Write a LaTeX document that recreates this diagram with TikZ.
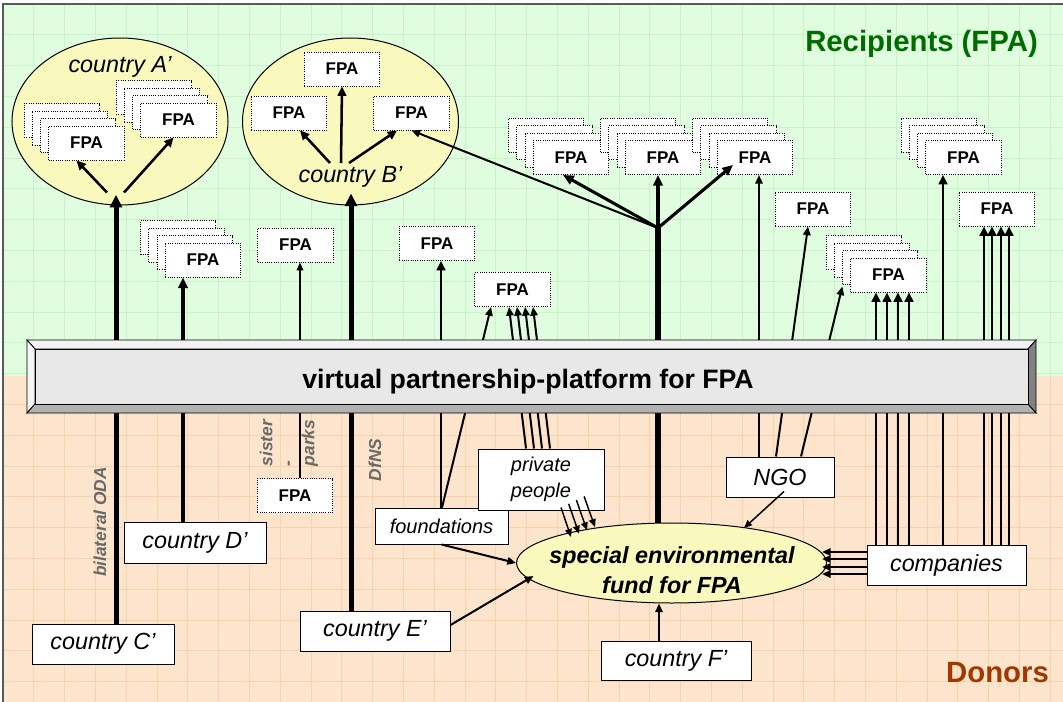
\documentclass[tikz,border=0pt]{standalone}
\usepackage{fontspec}
\setmainfont{Liberation Sans}
\usetikzlibrary{arrows.meta,shapes.geometric,calc,shadows}
\definecolor{bggreen}{RGB}{224,253,224}
\definecolor{gridgreen}{RGB}{200,242,200}
\definecolor{bgorange}{RGB}{253,228,204}
\definecolor{gridorange}{RGB}{250,210,170}
\definecolor{ellyellow}{RGB}{249,249,190}
\definecolor{titlegreen}{RGB}{0,108,0}
\definecolor{donorbrown}{RGB}{160,56,0}
\definecolor{labelgray}{RGB}{105,105,105}
\definecolor{bevtop}{RGB}{242,242,242}
\definecolor{bevleft}{RGB}{246,246,246}
\definecolor{bevbot}{RGB}{178,178,178}
\definecolor{bevright}{RGB}{130,130,130}
\definecolor{platface}{RGB}{232,232,232}
\definecolor{framegray}{RGB}{90,90,90}
\pgfdeclarelayer{bg}
\pgfdeclarelayer{ell}
\pgfdeclarelayer{conn}
\pgfdeclarelayer{top}
\pgfsetlayers{bg,ell,conn,main,top}
\tikzset{
  fpa/.style={draw=black, densely dotted, line width=0.7pt, fill=white,
    minimum width=56.5pt, minimum height=25.5pt, inner sep=0pt,
    font=\bfseries\fontsize{12.75}{14}\selectfont},
  fpastack/.style={fpa,
    copy shadow={draw=black, fill=white, densely dotted, line width=0.7pt, shadow xshift=-18.6pt, shadow yshift=16.8pt},
    copy shadow={draw=black, fill=white, densely dotted, line width=0.7pt, shadow xshift=-12.4pt, shadow yshift=11.2pt},
    copy shadow={draw=black, fill=white, densely dotted, line width=0.7pt, shadow xshift=-6.2pt, shadow yshift=5.6pt}},
  donor/.style={draw=black, line width=0.75pt, fill=white, inner sep=0pt,
    font=\itshape\fontsize{17.5}{20}\selectfont},
  smalldonor/.style={donor, align=center, font=\itshape\fontsize{15}{19.5}\selectfont},
  vlabel/.style={rotate=90, text=labelgray, inner sep=0pt,
    font=\bfseries\itshape\fontsize{13}{15.75}\selectfont},
  recell/.style={ellipse, draw=black, line width=0.75pt, fill=ellyellow, inner sep=0pt},
  ctext/.style={inner sep=0pt, font=\itshape\fontsize{17.5}{20}\selectfont},
  bigtitle/.style={inner sep=0pt, anchor=base, font=\bfseries\fontsize{22}{26}\selectfont},
  flowA/.style={line width=1.1pt, -{Triangle[length=6pt,width=5pt]}},
  flowB/.style={line width=1.5pt, -{Triangle[length=6.5pt,width=5.5pt]}},
  flowC/.style={line width=1.9pt, -{Triangle[length=7pt,width=6.5pt]}},
  flowD/.style={line width=2.3pt, -{Triangle[length=8pt,width=7pt]}},
  flowE/.style={line width=3.75pt, -{Triangle[length=9.5pt,width=9pt]}},
}
\begin{document}
\begin{tikzpicture}[x=0.75pt,y=-0.75pt]
\useasboundingbox (0,0) rectangle (1063,702);
% ---------------- background
\begin{pgfonlayer}{bg}
  \fill[white] (0,0) rectangle (1063,702);
  \fill[bggreen] (3,4) rectangle (1063,376);
  \fill[bgorange] (3,376) rectangle (1063,702);
  \foreach \i in {0,...,34} {
    \draw[gridgreen, line width=0.6pt] ({3+30.8*\i},4) -- ({3+30.8*\i},376);
    \draw[gridorange, line width=0.6pt] ({3+30.8*\i},376) -- ({3+30.8*\i},702);
  }
  \foreach \j in {1,...,12} \draw[gridgreen, line width=0.6pt] (3,{4+30.8*\j}) -- (1063,{4+30.8*\j});
  \foreach \j in {13,...,22} \draw[gridorange, line width=0.6pt] (3,{4+30.8*\j}) -- (1063,{4+30.8*\j});
\end{pgfonlayer}
% ---------------- ellipses
\begin{pgfonlayer}{ell}
  \node[recell, minimum width=162pt, minimum height=125.25pt] (ellA) at (120,121.5) {};
  \node[recell, minimum width=162pt, minimum height=125.25pt] (ellB) at (350.5,121.5) {};
  \node[recell, minimum width=232.5pt, minimum height=60pt] (fund) at (671.5,563) {};
\end{pgfonlayer}
% ---------------- platform
\filldraw[fill=bevtop, line width=0.6pt] (27,340) -- (1036,340) -- (1028,349) -- (35,349) -- cycle;
\filldraw[fill=bevleft, line width=0.6pt] (27,340) -- (35,349) -- (35,404) -- (27,413) -- cycle;
\filldraw[fill=bevbot, line width=0.6pt] (27,413) -- (35,404) -- (1028,404) -- (1036,413) -- cycle;
\filldraw[fill=bevright, line width=0.6pt] (1036,340) -- (1028,349) -- (1028,404) -- (1036,413) -- cycle;
\node[draw=black, fill=platface, line width=0.75pt, minimum width=744.75pt, minimum height=41.25pt, inner sep=0pt] (plat) at (531.5,376.5) {};
\node[inner sep=0pt, anchor=base, font=\bfseries\fontsize{20}{24}\selectfont] (plattxt) at (528,388) {virtual partnership-platform for FPA};
% ---------------- texts
\node[ctext] (cA) at (120,67) {country A’};
\node[ctext] (cB) at (350.5,177) {country B’};
\node[inner sep=0pt, align=center, font=\bfseries\itshape\fontsize{17.5}{22.5}\selectfont] (fundtxt) at (672,570) {special environmental\\fund for FPA};
\node[bigtitle, text=titlegreen] (rec) at (921.5,52) {Recipients (FPA)};
\node[bigtitle, text=donorbrown] (don) at (997.5,682) {Donors};
\node[vlabel] (oda) at (100,522) {bilateral ODA};
\node[vlabel, align=left] (sis) at (289,443) {sister\\-\\parks};
\node[vlabel] (dfns) at (375,460) {DfNS};
% ---------------- FPA boxes
\node[fpastack] (a1) at (86.5,143) {FPA};
\node[fpastack] (a2) at (178.5,120) {FPA};
\node[fpa] (b1) at (342,69) {FPA};
\node[fpa] (b2) at (289,113) {FPA};
\node[fpa] (b3) at (411.5,113) {FPA};
\node[fpastack] (d1) at (203,260) {FPA};
\node[fpa] (e1) at (295.5,245) {FPA};
\node[fpa] (g1) at (437,243.5) {FPA};
\node[fpa] (p1) at (512.5,289.5) {FPA};
\node[fpastack] (h1) at (571,157.5) {FPA};
\node[fpastack] (h2) at (663,157.5) {FPA};
\node[fpastack] (h3) at (755,157.5) {FPA};
\node[fpa] (n1) at (813,209) {FPA};
\node[fpastack] (n2) at (888.5,275) {FPA};
\node[fpastack] (k1) at (963.5,157.5) {FPA};
\node[fpa] (k2) at (997,209) {FPA};
\node[fpa] (sp) at (295,495.5) {FPA};
% ---------------- donor boxes
\node[donor, minimum width=106.5pt, minimum height=30pt] (cC) at (103,644) {country C’};
\node[donor, minimum width=106.5pt, minimum height=30.75pt] (cD) at (195,542.5) {country D’};
\node[donor, minimum width=112.5pt, minimum height=30pt] (cE) at (375,631) {country E’};
\node[donor, minimum width=112.5pt, minimum height=29.25pt] (cF) at (676,660.5) {country F’};
\node[donor, minimum width=81pt, minimum height=30pt] (ngo) at (780,477) {NGO};
\node[donor, minimum width=119.25pt, minimum height=30pt] (comp) at (946.5,565) {companies};
\node[smalldonor, minimum width=99.75pt, minimum height=27pt] (found) at (441.5,526) {foundations};
\node[smalldonor, minimum width=94.5pt, minimum height=45.75pt] (pp) at (541,479.5) {private\\people};
% ---------------- helper coordinates
\path (116,0) coordinate (X116) (183,0) coordinate (X183) (300,0) coordinate (X300)
      (351,0) coordinate (X351) (441,0) coordinate (X441) (442,0) coordinate (X442)
      (491,0) coordinate (X491) (759,0) coordinate (X759) (776,0) coordinate (X776)
      (808,0) coordinate (X808) (801,0) coordinate (X801) (659,0) coordinate (X659)
      (943,0) coordinate (X943);
\coordinate (hub) at (658,228);
% ---------------- connectors behind the platform
\begin{pgfonlayer}{conn}
  \draw[flowE, shorten >=-8pt] (cC.north -| X116) -- (ellA.south -| X116);
  \draw[flowE, shorten >=-9pt] (cE.north -| X351) -- (ellB.south -| X351);
  \draw[flowD] (cD.north -| X183) -- (d1.south -| X183);
  \draw[flowA] (sp.north -| X300) -- (e1.south -| X300);
  \draw[flowC] (found.north -| X441) -- (g1.south -| X441);
  \draw[flowB] (found.north -| X442) -- (p1.south -| X491);
  \foreach \k in {0,...,3}
    \draw[flowB] ($(pp.north)+({-15+8*\k},0)$) -- ($(p1.south)+({-3.5+8*\k},0)$);
  \draw[line width=4.5pt] (fund.north -| hub) -- (hub);
  \draw[flowB] (ngo.north -| X759) -- (h3.south -| X759);
  \draw[flowB] (ngo.north -| X776) -- (n1.south -| X808);
  \draw[flowB] (ngo.north -| X801) -- ($(n2.south west)+(-8,-6)$);
  \foreach \x in {876,887,898,909}
    \draw[flowC] ($(comp.north)+({\x-946.5},0)$) -- ($(n2.south)+({\x-888.5},0)$);
  \draw[flowC] (comp.north -| X943) -- (k1.south -| X943);
  \foreach \x in {984,992,1001,1009}
    \draw[flowC] ($(comp.north)+({\x-946.5},0)$) -- ($(k2.south)+({\x-997},0)$);
\end{pgfonlayer}
% ---------------- connectors on top
\begin{pgfonlayer}{top}
  \draw[flowD] (hub) -- ($(h1.south)+(-8,0)$);
  \draw[flowD] (hub) -- (h2.south -| hub);
  \draw[flowD] (hub) -- ($(h3.south)+(-22,-10)$);
  \draw[flowB] (hub) -- (b3.south);
  \draw[flowC] ($(ellA.south)+(-13,-13)$) -- ($(a1.south)+(-10,0)$);
  \draw[flowC] ($(ellA.south)+(4,-13)$) -- ($(a2.south)+(-5,0)$);
  \draw[flowC] ($(cB.center)+(-20.5,-14)$) -- ($(b2.south)+(11,0)$);
  \draw[flowC] ($(cB.center)+(-9.5,-14)$) -- (b1.south);
  \draw[flowC] ($(cB.center)+(-1.5,-14)$) -- ($(b3.south)+(-14.5,0)$);
  \draw[flowA] ($(ngo.south)+(4,-6)$) -- ($(fund.center)+(72.5,-35)$);
  \draw[flowB] (found.south) -- (fund.west);
  \draw[flowB] ($(cE.east)+(0,-6)$) -- ($(fund.center)+(-138,13)$);
  \draw[flowB] (cF.north -| X659) -- (fund.south -| X659);
  \foreach \y in {552,559,567,574}
    \draw[flowB] ($(comp.west)+(0,{\y-565})$) -- ($(fund.center)+(150.5,{\y-563})$);
  \foreach \k in {0,...,3}
    \draw[flowA] ($(pp.south)+({20+7.7*\k},{-3-3.7*\k})$) -- ($(fund.center)+({-100.5+8*\k},{-26-3.3*\k})$);
  \draw[framegray, line width=1.1pt] (3,702) -- (3,4) -- (1063,4);
\end{pgfonlayer}
\end{tikzpicture}
\end{document}
